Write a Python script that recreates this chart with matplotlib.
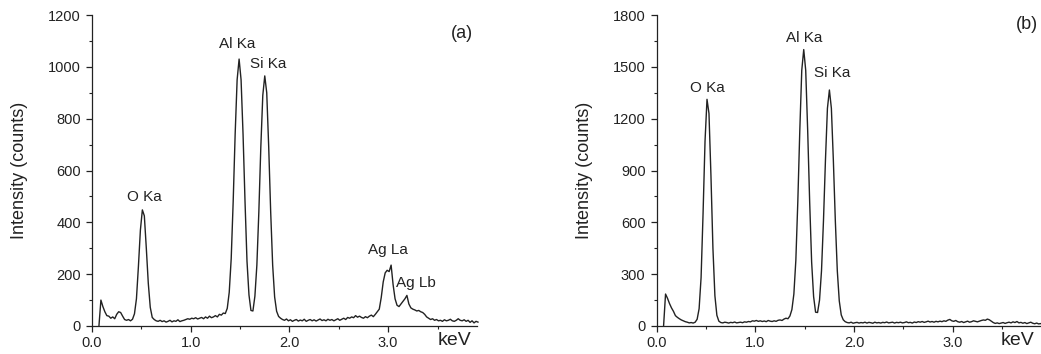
import numpy as np
import matplotlib
matplotlib.use("Agg")
import matplotlib.pyplot as plt
from matplotlib.ticker import MultipleLocator
import matplotlib.transforms as mtransforms

plt.rcParams['font.family'] = ['Liberation Sans', 'DejaVu Sans']

# Energy channels (keV): first channel and channel width
KEV_START = 0.07
KEV_STEP = 0.02

# Panel (a) counts per channel, 0.07 .. 3.91 keV
counts_a = [
    0, 100, 75, 55, 40, 38, 30, 35, 28, 45,
    55, 52, 38, 25, 22, 25, 20, 26, 47, 105,
    230, 370, 448, 425, 300, 165, 72, 33, 25, 20,
    18, 22, 17, 20, 15, 18, 22, 16, 20, 18,
    24, 17, 20, 22, 25, 28, 26, 30, 28, 32,
    27, 30, 33, 28, 35, 30, 38, 32, 35, 40,
    35, 45, 42, 50, 48, 68, 130, 260, 480, 740,
    950, 1030, 950, 740, 480, 250, 120, 60, 58, 115,
    235, 440, 690, 890, 965, 900, 690, 440, 235, 112,
    57, 37, 30, 25, 22, 27, 20, 24, 18, 22,
    25, 19, 23, 20, 26, 18, 22, 25, 20, 24,
    19, 23, 27, 21, 24, 20, 26, 22, 25, 20,
    24, 28, 22, 26, 30, 25, 33, 30, 35, 32,
    40, 34, 38, 33, 30, 36, 32, 38, 42, 36,
    45, 55, 65, 110, 170, 205, 215, 210, 235, 160,
    105, 80, 75, 85, 95, 105, 118, 85, 70, 65,
    62, 58, 60, 55, 52, 45, 35, 30, 25, 28,
    22, 25, 20, 22, 18, 24, 20, 22, 26, 20,
    18, 22, 28, 22, 20, 24, 18, 22, 14, 20,
    12, 18, 15,
]

# Panel (b) counts per channel, 0.07 .. 3.91 keV
counts_b = [
    0, 185, 160, 130, 105, 85, 60, 50, 42, 35,
    30, 25, 22, 18, 20, 17, 22, 39, 100, 280,
    650, 1070, 1312, 1230, 870, 450, 175, 62, 28, 20,
    18, 22, 20, 17, 21, 19, 23, 18, 20, 22,
    19, 24, 22, 26, 24, 30, 28, 32, 27, 30,
    26, 29, 25, 32, 28, 26, 30, 27, 33, 35,
    32, 40, 45, 42, 58, 95, 185, 380, 720, 1130,
    1480, 1600, 1480, 1130, 720, 370, 170, 80, 78, 150,
    320, 610, 960, 1260, 1366, 1260, 960, 610, 320, 145,
    64, 36, 25, 20, 18, 22, 16, 19, 21, 17,
    20, 18, 22, 17, 21, 19, 16, 22, 18, 20,
    17, 21, 19, 23, 18, 20, 22, 17, 21, 19,
    22, 18, 20, 24, 19, 21, 17, 23, 20, 25,
    22, 26, 21, 24, 28, 23, 26, 22, 27, 24,
    28, 25, 30, 27, 34, 38, 30, 27, 32, 25,
    22, 26, 20, 24, 28, 22, 25, 30, 27, 24,
    28, 32, 35, 33, 40, 36, 28, 20, 15, 18,
    14, 17, 20, 15, 19, 22, 18, 24, 20, 26,
    18, 21, 16, 20, 14, 18, 22, 16, 13, 17,
    12, 14, 10,
]

peak_labels_a = ["O Ka", "Al Ka", "Si Ka", "Ag La", "Ag Lb"]
peak_pos_a = [(0.527, 499), (1.466, 1089), (1.78, 1010), (3.00, 293), (3.28, 167)]
peak_labels_b = ["O Ka", "Al Ka", "Si Ka"]
peak_pos_b = [(0.513, 1376), (1.492, 1666), (1.776, 1467)]

x_ticks = [0.0, 1.0, 2.0, 3.0]
x_tick_labels = ["0.0", "1.0", "2.0", "3.0"]

kev_a = KEV_START + KEV_STEP * np.arange(len(counts_a))
kev_b = KEV_START + KEV_STEP * np.arange(len(counts_b))

fig = plt.figure(figsize=(10.41, 3.54), dpi=100)
axA = fig.add_axes([0.0884, 0.0791, 0.3698, 0.8785])
axB = fig.add_axes([0.6308, 0.0791, 0.3698, 0.8785])

def style(ax, ymax, ymaj, ymin, kev_x, tag, tag_xy, labels, positions):
    ax.set_xlim(0, 3.9)
    ax.set_ylim(0, ymax)
    for s in ['top', 'right']:
        ax.spines[s].set_visible(False)
    for s in ['left', 'bottom']:
        ax.spines[s].set_linewidth(0.9)
        ax.spines[s].set_color('#222222')
    ax.set_xticks(x_ticks)
    ax.set_xticklabels(x_tick_labels)
    ax.xaxis.set_minor_locator(MultipleLocator(0.5))
    ax.yaxis.set_major_locator(MultipleLocator(ymaj))
    ax.yaxis.set_minor_locator(MultipleLocator(ymin))
    ax.tick_params(which='major', direction='out', length=4, width=0.9,
                   labelsize=10.5, colors='#222222', pad=3)
    ax.tick_params(which='minor', direction='out', length=2.5, width=0.8,
                   colors='#222222')
    ax.tick_params(axis='y', which='major', pad=4)
    ax.set_ylabel("Intensity (counts)", fontsize=13, color='#222222', va='center')
    ax.yaxis.set_label_coords(-0.188, 0.5)
    trans = mtransforms.blended_transform_factory(ax.transData, ax.transAxes)
    ax.text(kev_x, -0.047, "keV", transform=trans, fontsize=14,
            ha='center', va='center', color='#222222')
    ax.text(tag_xy[0], tag_xy[1], tag, fontsize=13, ha='center', va='center',
            color='#222222')
    for lab, (px, py) in zip(labels, positions):
        ax.text(px, py, lab, fontsize=11, ha='center', va='center', color='#222222')

axA.plot(kev_a, counts_a, color='#222222', lw=1.0, clip_on=False)
axB.plot(kev_b, counts_b, color='#222222', lw=1.0, clip_on=True)

style(axA, 1200, 200, 100, 3.67, "(a)", (3.75, 1130), peak_labels_a, peak_pos_a)
style(axB, 1800, 300, 150, 3.66, "(b)", (3.749, 1743), peak_labels_b, peak_pos_b)

fig.savefig("out.png", dpi=100)
